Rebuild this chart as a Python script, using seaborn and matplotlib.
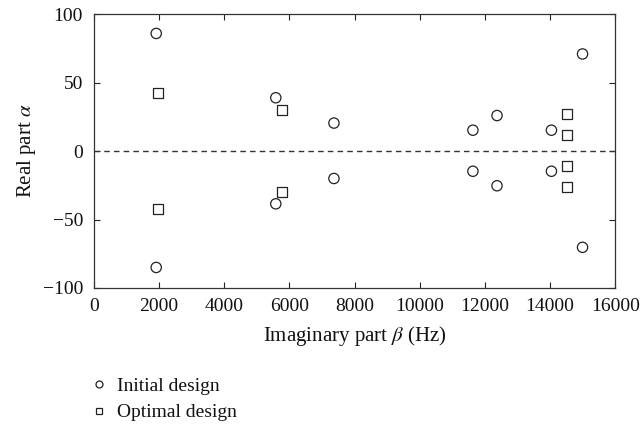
import matplotlib
matplotlib.use("Agg")
import matplotlib.pyplot as plt
import seaborn as sns
import pandas as pd

# Initial design poles
init_beta = [1910, 1910, 5580, 5580, 7365, 7365, 11630, 11630, 12370, 12370, 14040, 14040, 14995, 14995]
init_alpha = [86, -85, 39, -38.5, 20.5, -20, 15.3, -14.7, 26, -25.3, 15.3, -14.7, 71, -70.3]
# Optimal design poles
opt_beta = [1960, 1960, 5770, 5770, 14520, 14520, 14520, 14520]
opt_alpha = [42.4, -42.2, 30.3, -29.8, 26.9, 11.8, -11.1, -26.2]

xticks = [0, 2000, 4000, 6000, 8000, 10000, 12000, 14000, 16000]
yticks = [-100, -50, 0, 50, 100]

sns.set_theme(style="ticks")
plt.rcParams['font.family'] = ['Liberation Serif', 'DejaVu Serif']
plt.rcParams['mathtext.fontset'] = 'stix'

fig = plt.figure(figsize=(6.42, 4.25), dpi=100)
ax = fig.add_axes([0.1464, 0.3224, 0.812, 0.644])

df_i = pd.DataFrame({"beta": init_beta, "alpha": init_alpha})
df_o = pd.DataFrame({"beta": opt_beta, "alpha": opt_alpha})

sns.scatterplot(data=df_i, x="beta", y="alpha", marker="o", s=55,
                facecolor="none", edgecolor="#222222", linewidth=0.9, ax=ax,
                label="Initial design", legend=False)
sns.scatterplot(data=df_o, x="beta", y="alpha", marker="s", s=55,
                facecolor="none", edgecolor="#222222", linewidth=0.9, ax=ax,
                label="Optimal design", legend=False)

ax.plot([0, 16000], [0, 0], linestyle=(0, (4, 3)), color="#333333", linewidth=1.0)

ax.set_xlim(0, 16000)
ax.set_ylim(-100, 100)
ax.set_xticks(xticks)
ax.set_yticks(yticks)
ax.set_yticklabels([str(v).replace('-', '\u2212') for v in yticks])
ax.tick_params(direction="in", top=True, right=True, length=4, width=0.8,
               labelsize=14, colors="#222222", labelcolor="#111111")
ax.tick_params(axis="y", pad=8)
ax.tick_params(axis="x", pad=7.5)
for sp in ax.spines.values():
    sp.set_linewidth(0.9)
    sp.set_color("#333333")

ax.set_xlabel(r"Imaginary part $\beta$ (Hz)", fontsize=15, labelpad=6, color="#111111")
ax.set_ylabel(r"Real part $\alpha$", fontsize=15, labelpad=3, color="#111111")

handles = [
    plt.Line2D([], [], marker="o", linestyle="none", markerfacecolor="none",
               markeredgecolor="#222222", markersize=5, markeredgewidth=0.9),
    plt.Line2D([], [], marker="s", linestyle="none", markerfacecolor="none",
               markeredgecolor="#222222", markersize=5, markeredgewidth=0.9),
]
fig.legend(handles, ["Initial design", "Optimal design"], loc="upper left",
           bbox_to_anchor=(0.139, 0.112), frameon=False, fontsize=14,
           handlelength=1.0, handletextpad=0.45, labelspacing=0.45,
           borderaxespad=0, borderpad=0, labelcolor="#111111")

fig.savefig("out.png", dpi=100)
